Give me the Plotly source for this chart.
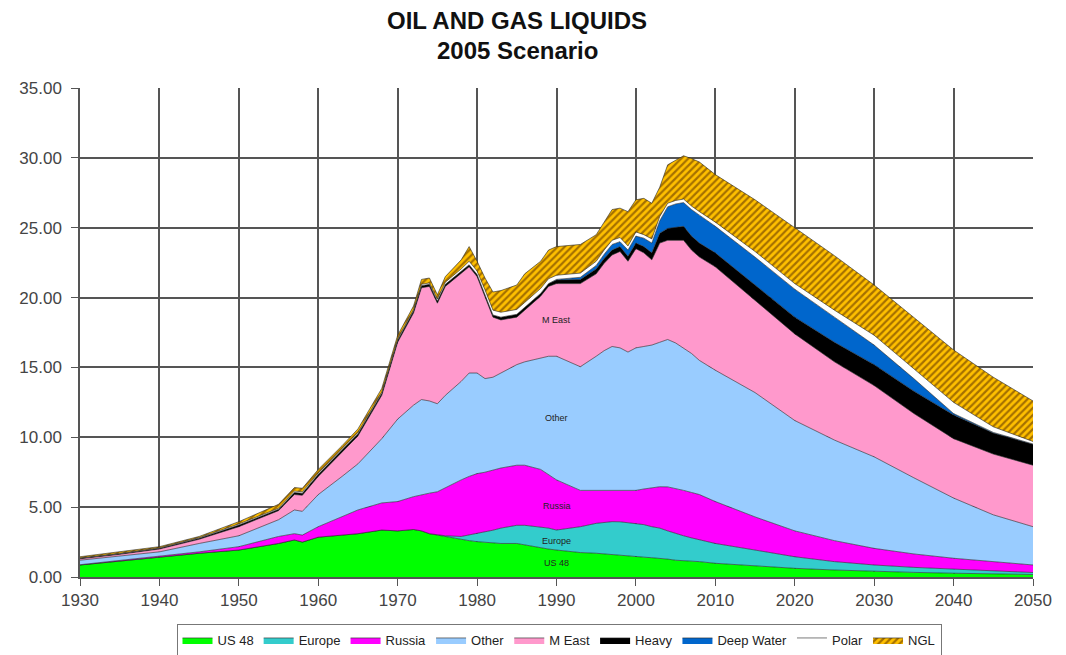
import plotly.graph_objects as go

years = [1930, 1935, 1940, 1945, 1950, 1955, 1957, 1958, 1960, 1963, 1965, 1968,
         1970, 1972, 1973, 1974, 1975, 1976, 1978, 1979, 1980, 1981, 1982, 1983,
         1985, 1986, 1988, 1989, 1990, 1993, 1995, 1996, 1997, 1998, 1999, 2000,
         2001, 2002, 2003, 2004, 2005, 2006, 2007, 2008, 2010, 2015, 2020, 2025,
         2030, 2035, 2040, 2045, 2050]

us48 = [0.86, 1.15, 1.45, 1.7, 1.93, 2.4, 2.65, 2.5, 2.85, 3.0, 3.1, 3.36,
        3.3, 3.4, 3.3, 3.1, 3.0, 2.9, 2.65, 2.6, 2.53, 2.5, 2.45, 2.4,
        2.4, 2.3, 2.05, 2.0, 1.93, 1.75, 1.7, 1.65, 1.57, 1.52, 1.48, 1.45,
        1.42, 1.38, 1.34, 1.28, 1.2, 1.17, 1.13, 1.1, 0.98, 0.8, 0.62, 0.5,
        0.4, 0.33, 0.27, 0.22, 0.18]

europe = [0, 0, 0, 0, 0, 0, 0, 0, 0, 0, 0, 0,
          0, 0, 0, 0, 0, 0.05, 0.25, 0.4, 0.57, 0.7, 0.9, 1.1,
          1.3, 1.4, 1.55, 1.5, 1.43, 1.85, 2.14, 2.25, 2.39, 2.43, 2.42, 2.39,
          2.33, 2.22, 2.16, 2.02, 1.9, 1.78, 1.67, 1.55, 1.42, 1.13, 0.83, 0.6,
          0.46, 0.36, 0.28, 0.23, 0.14]

russia = [0.02, 0.03, 0.05, 0.1, 0.24, 0.5, 0.45, 0.5, 0.75, 1.3, 1.7, 1.94,
          2.1, 2.35, 2.6, 2.9, 3.1, 3.45, 4.05, 4.2, 4.3, 4.3, 4.3, 4.3,
          4.3, 4.3, 4.1, 3.8, 3.59, 2.6, 2.36, 2.3, 2.24, 2.2, 2.3, 2.36,
          2.55, 2.8, 2.96, 3.15, 3.25, 3.25, 3.25, 3.25, 3.0, 2.37, 1.85, 1.5,
          1.19, 0.96, 0.79, 0.65, 0.54]

other = [0.32, 0.32, 0.30, 0.6, 0.78, 1.2, 1.7, 1.7, 2.3, 2.9, 3.3, 4.6,
         5.9, 6.55, 6.8, 6.6, 6.3, 6.6, 7.05, 7.4, 7.2, 6.7, 6.65, 6.8,
         7.2, 7.4, 7.95, 8.5, 8.85, 8.85, 9.6, 10.0, 10.3, 10.25, 9.9, 10.2,
         10.2, 10.2, 10.34, 10.55, 10.4, 10.2, 9.95, 9.6, 9.4, 8.9, 7.9, 7.2,
         6.55, 5.45, 4.31, 3.35, 2.74]

m_east = [0.10, 0.12, 0.20, 0.3, 0.65, 0.65, 1.1, 1.15, 1.3, 1.7, 2.0, 3.1,
          5.5, 6.6, 8.0, 8.2, 7.2, 7.8, 7.7, 7.6, 6.9, 5.9, 4.3, 3.8,
          3.4, 3.7, 4.45, 5.0, 5.2, 5.95, 5.9, 6.25, 6.55, 6.9, 6.5, 7.1,
          6.7, 6.1, 7.1, 7.1, 7.35, 7.7, 7.4, 7.4, 7.4, 6.6, 6.2, 5.6,
          5.1, 4.6, 4.25, 4.35, 4.4]

heavy = [0.05, 0.05, 0.06, 0.08, 0.12, 0.1, 0.15, 0.15, 0.15, 0.15, 0.15, 0.15,
         0.15, 0.15, 0.15, 0.15, 0.15, 0.15, 0.15, 0.15, 0.15, 0.15, 0.15, 0.2,
         0.2, 0.2, 0.2, 0.2, 0.25, 0.3, 0.35, 0.35, 0.35, 0.35, 0.35, 0.4,
         0.45, 0.5, 0.7, 0.85, 0.95, 1.0, 1.0, 1.0, 1.0, 1.1, 1.2, 1.4,
         1.5, 1.6, 1.7, 1.5, 1.5]

deep_water = [0, 0, 0, 0, 0, 0, 0, 0, 0, 0, 0, 0,
              0, 0, 0, 0, 0, 0, 0, 0, 0, 0, 0, 0,
              0, 0, 0, 0, 0.05, 0.15, 0.25, 0.3, 0.4, 0.35, 0.45, 0.5,
              0.6, 0.7, 0.9, 1.55, 1.65, 1.7, 1.9, 2.0, 1.9, 2.0, 2.0, 1.8,
              1.4, 0.9, 0.1, 0.05, 0.02]

polar = [0.02, 0.03, 0.04, 0.04, 0.08, 0.07, 0.1, 0.1, 0.1, 0.1, 0.1, 0.1,
         0.1, 0.1, 0.1, 0.1, 0.15, 0.15, 0.2, 0.25, 0.25, 0.3, 0.35, 0.35,
         0.35, 0.35, 0.35, 0.35, 0.3, 0.3, 0.3, 0.3, 0.3, 0.3, 0.3, 0.3,
         0.25, 0.3, 0.3, 0.25, 0.25, 0.25, 0.25, 0.25, 0.3, 0.4, 0.4, 0.5,
         0.7, 0.7, 0.8, 0.4, 0.18]

ngl = [0.08, 0.10, 0.07, 0.08, 0.16, 0.28, 0.25, 0.25, 0.25, 0.25, 0.25, 0.25,
       0.25, 0.25, 0.35, 0.35, 0.3, 0.4, 0.65, 1.05, 0.7, 0.85, 1.3, 1.55,
       1.75, 2.05, 1.95, 2.05, 2.05, 2.05, 1.9, 2.0, 2.2, 2.1, 2.45, 2.3,
       2.6, 2.55, 2.1, 2.75, 2.9, 3.1, 3.4, 3.55, 3.4, 3.7, 4.0, 3.9,
       3.6, 3.7, 3.75, 3.55, 2.9]

series_names = ["US 48", "Europe", "Russia", "Other", "M East", "Heavy",
                "Deep Water", "Polar", "NGL"]
series_values = [us48, europe, russia, other, m_east, heavy, deep_water, polar, ngl]
series_colors = ["#00FF00", "#33CCCC", "#FF00FF", "#99CCFF", "#FF99CC", "#000000",
                 "#0066CC", "#FFFFFF", "#FFC000"]

x_ticks = list(range(1930, 2051, 10))
y_ticks = list(range(0, 36, 5))

FONT = "Liberation Sans, Arial, sans-serif"

# page has an 8px body margin, so figure coords = page coords - 8
L, T = 72, 80
PLOT_W, PLOT_H = 953, 489
W, H = 1066, 655
R = W - L - PLOT_W
B = H - T - PLOT_H

fig = go.Figure()
for name, vals, col in zip(series_names, series_values, series_colors):
    kw = {}
    if name == "NGL":
        kw["fillpattern"] = dict(shape="/", bgcolor="#FFC000", fgcolor="#4A2000",
                                 size=5, solidity=0.45)
    fig.add_trace(go.Scatter(
        x=years, y=vals, name=name, stackgroup="one", mode="lines",
        line=dict(color="#222222", width=0.6), fillcolor=col, **kw))

labels = [("M East", 1990, 18.4), ("Other", 1990, 11.4), ("Russia", 1990, 5.1),
          ("Europe", 1990, 2.6), ("US 48", 1990, 1.0)]
for txt, lx, ly in labels:
    fig.add_annotation(x=lx, y=ly, text=txt, showarrow=False,
                       font=dict(family=FONT, size=9, color="#222222"))

cx = (517 - 8 - L) / PLOT_W
for txt, yc in [("OIL AND GAS LIQUIDS", 20), ("2005 Scenario", 50)]:
    fig.add_annotation(xref="paper", yref="paper", x=cx, y=1 + (T - (yc - 8)) / PLOT_H,
                       yanchor="middle", text=f"<b>{txt}</b>", showarrow=False,
                       font=dict(family=FONT, size=24, color="#111111"))

leg_x = (559 - 8 - L) / PLOT_W
leg_y = -((640 - 8) - (T + PLOT_H)) / PLOT_H

fig.update_layout(
    width=W, height=H,
    margin=dict(l=L, r=R, t=T, b=B, autoexpand=False),
    paper_bgcolor="white", plot_bgcolor="white",
    showlegend=True,
    legend=dict(orientation="h", x=leg_x, xanchor="center", y=leg_y, yanchor="middle",
                traceorder="normal",
                bordercolor="#777777", borderwidth=1,
                font=dict(family=FONT, size=13, color="#222222"),
                itemwidth=30, tracegroupgap=0),
    font=dict(family=FONT, color="#444444"),
)

fig.update_xaxes(range=[1930, 2050], tickvals=x_ticks, ticktext=[str(t) for t in x_ticks],
                 showgrid=True, gridcolor="#555555", gridwidth=1.5,
                 ticks="outside", ticklen=7, tickcolor="#555555",
                 showline=True, linecolor="#555555", linewidth=1.5,
                 tickfont=dict(family=FONT, size=17, color="#444444"), zeroline=False)
fig.update_yaxes(range=[0, 35], tickvals=y_ticks, ticktext=[f"{t:.2f}" for t in y_ticks],
                 showgrid=True, gridcolor="#555555", gridwidth=1.5,
                 ticks="outside", ticklen=7, tickcolor="#555555",
                 showline=True, linecolor="#555555", linewidth=1.5,
                 ticklabelstandoff=6,
                 tickfont=dict(family=FONT, size=17, color="#444444"), zeroline=False)

fig.write_html("out.html")
